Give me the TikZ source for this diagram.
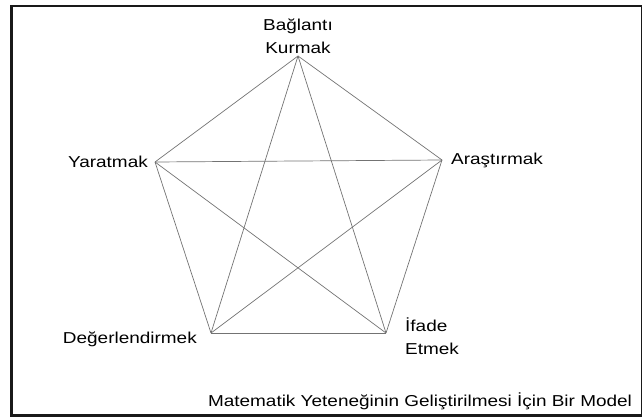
\documentclass[tikz,border=0pt]{standalone}
\usepackage{fontspec}
\setmainfont{Liberation Sans}[FakeStretch=1.2]
\definecolor{edgegray}{RGB}{115,115,115}
\definecolor{framecol}{RGB}{25,25,25}
\begin{document}
\begin{tikzpicture}[x=1pt,y=-1pt,
  lab/.style={font=\fontsize{15.8}{23}\selectfont, inner sep=0pt, text=black},
  edge/.style={draw=edgegray, line width=0.7pt}]
\useasboundingbox (0,0) rectangle (642,417);
\draw[framecol, line width=2.6pt] (11.5,6) rectangle (642.5,415.5);
\coordinate (T) at (298,56);
\coordinate (L) at (155,162);
\coordinate (R) at (442,160);
\coordinate (BL) at (211,333);
\coordinate (BR) at (386,333);
\foreach \a/\b in {T/L,T/R,L/R,L/BL,R/BR,BL/BR,T/BL,T/BR,L/BR,R/BL}
  \draw[edge] (\a) -- (\b);
\node[lab, align=center, anchor=south] (tl) at (298,54) {Bağlantı\\Kurmak};
\node[lab, anchor=east] (ll) at (148,162) {Yaratmak};
\node[lab, anchor=west] (rl) at (451,160) {Araştırmak};
\node[lab, anchor=east] (bll) at (197,339) {Değerlendirmek};
\node[lab, align=left, anchor=north west] (brl) at (405,318) {İfade\\Etmek};
\node[lab] (cap) at (420,401) {Matematik Yeteneğinin Geliştirilmesi İçin Bir Model};
\end{tikzpicture}
\end{document}
